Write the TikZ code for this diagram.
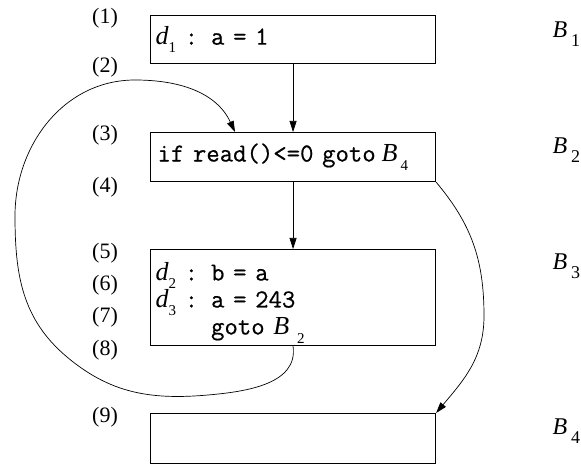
\documentclass[tikz,border=0pt]{standalone}
\usepackage{fontspec}
\setmainfont{Liberation Serif}
\newfontfamily\codefont[FakeBold=0.6]{Latin Modern Mono}
\usetikzlibrary{arrows.meta}
\newcommand{\dv}[1]{{\rmfamily\itshape d}\raisebox{-0.3em}{\rmfamily\fontsize{15}{15}\selectfont #1}}
\newcommand{\bv}[2][3pt]{{\rmfamily\itshape B}\hspace{#1}\raisebox{-0.35em}{\rmfamily\fontsize{15}{15}\selectfont #2}}
\newcommand{\bl}[1]{{\rmfamily\itshape B}\hspace{4pt}\raisebox{-0.35em}{\rmfamily\fontsize{18}{18}\selectfont #1}}
\begin{document}
\begin{tikzpicture}[x=1pt,y=1pt,
 blk/.style={draw, line width=1.1pt, minimum width=285pt, inner xsep=5pt, inner ysep=0pt, text width=275pt, align=left, font=\codefont\fontsize{26}{27}\selectfont, anchor=north west},
 lbl/.style={font=\fontsize{22}{22}\selectfont},
 blab/.style={anchor=base west, font=\fontsize{24}{24}\selectfont},
 edge/.style={line width=0.7pt, -{Triangle[length=11pt,width=7pt]}}]
\useasboundingbox (0,0) rectangle (581,466);
% blocks
\node[blk, minimum height=48pt] (b1) at (150,451) {\dv{1} : a = 1};
\node[blk, minimum height=49pt] (b2) at (150,334) {\hspace{2pt}if read()<=0 goto\hspace{6pt}\bv{4}};
\node[blk, minimum height=96pt] (b3) at (150,217) {\rule{0pt}{29pt}\dv{2} : b = a\\\dv{3} : a = 243\\\phantom{\dv{3} : }goto \bv[8pt]{2}};
\node[blk, minimum height=50pt] (b4) at (150,53) {};
% line numbers
\node[lbl] (l1) at (105,448) {(1)};
\node[lbl] (l2) at (105,399) {(2)};
\node[lbl] (l3) at (105,331) {(3)};
\node[lbl] (l4) at (105,279) {(4)};
\node[lbl] (l5) at (105,213) {(5)};
\node[lbl] (l6) at (105,181) {(6)};
\node[lbl] (l7) at (105,149) {(7)};
\node[lbl] (l8) at (105,116) {(8)};
\node[lbl] (l9) at (105,49) {(9)};
% block labels
\node[blab] (n1) at (549,428) {\bl{1}};
\node[blab] (n2) at (549,312) {\bl{2}};
\node[blab] (n3) at (549,196) {\bl{3}};
\node[blab] (n4) at (549,31) {\bl{4}};
% edges
\draw[edge] (b1.south) -- (b2.north);
\draw[edge] (b2.south) -- (b3.north);
\coordinate (r1) at (484,150);
\draw[edge] (b2.south east) to[out=-50,in=90] (r1) to[out=-90,in=50] (b4.north east);
\coordinate (p1) at (208,71);
\coordinate (q1) at (67,109);
\coordinate (p2) at (15,250);
\coordinate (p3) at (135,386);
\coordinate (t2) at ([xshift=85pt]b2.north west);
\draw[edge] (b3.south) to[out=-82,in=5] (p1) to[out=185,in=-40] (q1) to[out=140,in=-90] (p2) to[out=90,in=180] (p3) to[out=0,in=115] (t2);
\end{tikzpicture}
\end{document}
